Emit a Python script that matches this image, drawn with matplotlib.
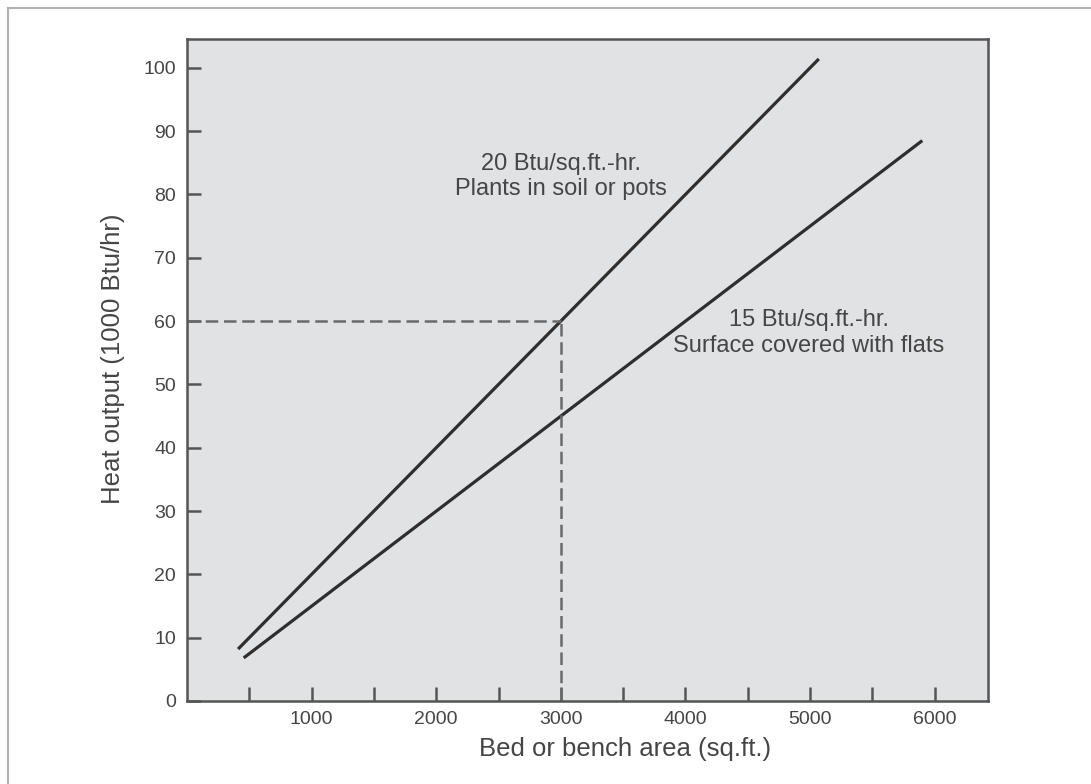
import matplotlib
matplotlib.use("Agg")
import matplotlib.pyplot as plt
from matplotlib.lines import Line2D

plt.rcParams['font.family'] = ['Liberation Sans', 'DejaVu Sans']

#
# Data (area in sq.ft., heat output in 1000 Btu/hr)
#
area_20 = [410, 5070]
heat_20 = [8.2, 101.4]          # 20 Btu/sq.ft.-hr.
area_15 = [455, 5900]
heat_15 = [6.8, 88.5]           # 15 Btu/sq.ft.-hr.

example_area = 3000
example_heat = 60

x_ticks = [500, 1000, 1500, 2000, 2500, 3000, 3500, 4000, 4500, 5000, 5500, 6000]
x_labels = ['', '1000', '', '2000', '', '3000', '', '4000', '', '5000', '', '6000']
y_ticks = [0, 10, 20, 30, 40, 50, 60, 70, 80, 90, 100]

text_col = '#454545'
line_col = '#2e2e2e'
axis_col = '#555555'

fig = plt.figure(figsize=(10.91, 7.84), dpi=100)
ax = fig.add_axes([0.1714, 0.1059, 0.7345, 0.844])
ax.set_facecolor('#e1e2e4')

# the two heat lines
ax.plot(area_20, heat_20, color=line_col, lw=2.3, solid_capstyle='butt')
ax.plot(area_15, heat_15, color=line_col, lw=2.3, solid_capstyle='butt')

# dashed guide lines for the worked example
ax.plot([0, example_area], [example_heat, example_heat], color='#6a6a6a',
        lw=1.8, dashes=(5, 2.3))
ax.plot([example_area, example_area], [0, example_heat], color='#6a6a6a',
        lw=1.8, dashes=(5, 2.3))

ax.text(3000, 82.8, "20 Btu/sq.ft.-hr.\nPlants in soil or pots",
        ha='center', va='center', fontsize=17, color=text_col, linespacing=1.2)
ax.text(4990, 58.1, "15 Btu/sq.ft.-hr.\nSurface covered with flats",
        ha='center', va='center', fontsize=17, color=text_col, linespacing=1.2)

ax.set_xlim(0, 6430)
ax.set_ylim(0, 104.5)
ax.set_xticks(x_ticks)
ax.set_xticklabels(x_labels)
ax.set_yticks(y_ticks)

ax.tick_params(axis='both', direction='in', length=10, width=1.8,
               color=axis_col, labelcolor=text_col, labelsize=14)
ax.tick_params(axis='x', pad=7)
ax.tick_params(axis='y', pad=8)

for s in ax.spines.values():
    s.set_color(axis_col)
    s.set_linewidth(1.8)

ax.text(0.547, -0.072, "Bed or bench area (sq.ft.)", transform=ax.transAxes,
        ha='center', va='center', fontsize=18.5, color=text_col)
ax.text(-0.092, 0.517, "Heat output (1000 Btu/hr)", transform=ax.transAxes,
        ha='center', va='center', rotation=90, fontsize=18.5, color=text_col)

# outer frame (cut off at right and bottom in the original)
fig.add_artist(Line2D([8 / 1091, 8 / 1091], [0, 1 - 8 / 784],
                      transform=fig.transFigure, color='#b0b0b0', lw=1.5))
fig.add_artist(Line2D([8 / 1091, 1], [1 - 8 / 784, 1 - 8 / 784],
                      transform=fig.transFigure, color='#b0b0b0', lw=1.5))

fig.savefig("out.png", dpi=100)
